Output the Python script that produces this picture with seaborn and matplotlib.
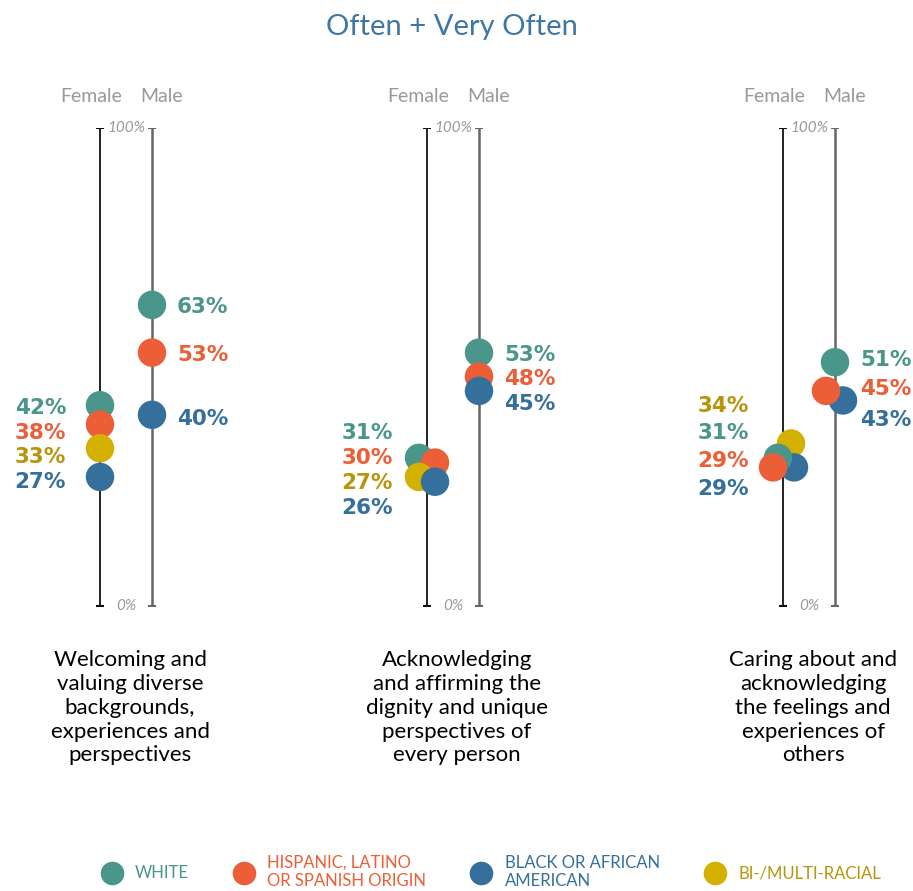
import pandas as pd
import matplotlib.pyplot as plt
import seaborn as sns
from matplotlib.lines import Line2D

# ---- data ----
panel_labels = [
    "Welcoming and\nvaluing diverse\nbackgrounds,\nexperiences and\nperspectives",
    "Acknowledging\nand affirming the\ndignity and unique\nperspectives of\nevery person",
    "Caring about and\nacknowledging\nthe feelings and\nexperiences of\nothers",
]
races = ["White", "Hispanic", "Bi", "Black"]
legend_labels = ["WHITE", "HISPANIC, LATINO\nOR SPANISH ORIGIN", "BLACK OR AFRICAN\nAMERICAN", "BI-/MULTI-RACIAL"]

female_white = [42, 31, 31]
female_hispanic = [38, 30, 29]
female_bi = [33, 27, 34]
female_black = [27, 26, 29]

male_white = [63, 53, 51]
male_hispanic = [53, 48, 45]
male_black = [40, 45, 43]

# ---- style ----
colors = {"White": "#4a968a", "Hispanic": "#ec5e37", "Bi": "#d4b100", "Black": "#35709c"}
text_colors = {"White": "#4a968a", "Hispanic": "#ec5e37", "Bi": "#b8940a", "Black": "#35709c"}
legend_order = ["White", "Hispanic", "Black", "Bi"]

# horizontal dodge (pixels) so overlapping dots stay visible
dodge = {
    (1, "Female"): {"White": -8, "Hispanic": 8, "Bi": -8, "Black": 8},
    (2, "Female"): {"White": -5, "Hispanic": -10, "Bi": 8, "Black": 11},
    (2, "Male"): {"Hispanic": -9, "Black": 8},
}
draw_order = {2: ["Bi", "Black", "White", "Hispanic"]}
# label y positions (in % units) for the stacked value labels
label_y = {
    (0, "Female"): [41.4, 36.2, 31.2, 25.9],
    (1, "Female"): [36.2, 31.0, 25.7, 20.5],
    (2, "Female"): [41.8, 36.2, 30.3, 24.5],
    (0, "Male"): [62.6, 52.5, 39.1],
    (1, "Male"): [52.5, 47.5, 42.3],
    (2, "Male"): [51.5, 45.4, 38.9],
}

rows = []
fem = {"White": female_white, "Hispanic": female_hispanic, "Bi": female_bi, "Black": female_black}
mal = {"White": male_white, "Hispanic": male_hispanic, "Black": male_black}
for p in range(3):
    for r, vals in fem.items():
        rows.append({"panel": p, "gender": "Female", "race": r, "value": vals[p]})
    for r, vals in mal.items():
        rows.append({"panel": p, "gender": "Male", "race": r, "value": vals[p]})
df = pd.DataFrame(rows)

sns.set_theme(style="white")
plt.rcParams["font.family"] = ["Lato", "DejaVu Sans"]

W, H = 913, 891
fig = plt.figure(figsize=(W / 100, H / 100), dpi=100)

unit = 52.0  # px between female and male axis lines
female_px = [100, 427, 783]
y0_px, y100_px = 606, 128
ax_w = 300

for p in range(3):
    left = female_px[p] - 110
    ax = fig.add_axes([left / W, (H - y0_px) / H, ax_w / W, (y0_px - y100_px) / H])
    ax.set_xlim(-110 / unit, (ax_w - 110) / unit)
    ax.set_ylim(0, 100)
    ax.axis("off")

    # axis lines with end caps
    ax.plot([0, 0], [0, 100], color="#111111", lw=1.3, zorder=1)
    ax.plot([1, 1], [0, 100], color="#666666", lw=1.8, zorder=1)
    ax.plot([0, 0], [0, 100], ls="none", marker="_", ms=6, mew=1.5, color="#111111")
    ax.plot([1, 1], [0, 100], ls="none", marker="_", ms=6, mew=1.5, color="#666666")

    ax.text(0.5, 100, "100%", ha="center", va="center", style="italic",
            color="#9a9a9a", fontsize=11)
    ax.text(0.5, 0, "0%", ha="center", va="center", style="italic",
            color="#9a9a9a", fontsize=11)
    ax.text(-0.17, 106.5, "Female", ha="center", va="center", color="#999999",
            fontsize=14)
    ax.text(1.19, 106.5, "Male", ha="center", va="center", color="#999999",
            fontsize=14)

    sub = df[df.panel == p].copy()
    sub["x"] = sub["gender"].map({"Female": 0, "Male": 1}).astype(float)
    for i, r in sub.iterrows():
        off = dodge.get((p, r["gender"]), {}).get(r["race"], 0)
        sub.loc[i, "x"] += off / unit
    order = draw_order.get(p, races)
    sub["ord"] = sub["race"].map({r: i for i, r in enumerate(order)})
    sub = sub.sort_values(["gender", "ord"])
    sns.scatterplot(data=sub, x="x", y="value", hue="race", palette=colors,
                    s=420, linewidth=0, legend=False, ax=ax, zorder=3)
    ax.set_xlabel("")
    ax.set_ylabel("")

    for g, xpos, ha in [("Female", -34 / unit, "right"), ("Male", 1 + 25 / unit, "left")]:
        s = df[(df.panel == p) & (df.gender == g)].copy()
        s["rank"] = s["race"].map({"White": 0, "Hispanic": 1, "Bi": 2, "Black": 3})
        s = s.sort_values(["value", "rank"], ascending=[False, True])
        for (_, r), yy in zip(s.iterrows(), label_y[(p, g)]):
            ax.text(xpos, yy, f"{r['value']}%", ha=ha, va="center",
                    color=text_colors[r["race"]], fontsize=15.5, fontweight="black",
                    family=["DejaVu Sans"])

    # category label below
    fig.text((female_px[p] + 30) / W, 1 - 650 / H, panel_labels[p], ha="center", va="top",
             multialignment="center", fontsize=16, color="#000000", linespacing=1.24)

fig.text(0.495, 1 - 27 / H, "Often + Very Often", ha="center", va="center",
         color="#3e77a3", fontsize=21)

handles = [Line2D([0], [0], marker="o", ls="none", markersize=17, markeredgewidth=0,
                  markerfacecolor=colors[r]) for r in legend_order]
fig.legend(handles, legend_labels, ncol=4, loc="center left",
           bbox_to_anchor=(85 / W, 1 - 872 / H), frameon=False,
           labelcolor=[text_colors[r] for r in legend_order],
           prop={"size": 12}, handletextpad=0.4,
           columnspacing=2.3, labelspacing=0.1, borderpad=0.1)

fig.savefig("out.png", dpi=100, facecolor="white")
